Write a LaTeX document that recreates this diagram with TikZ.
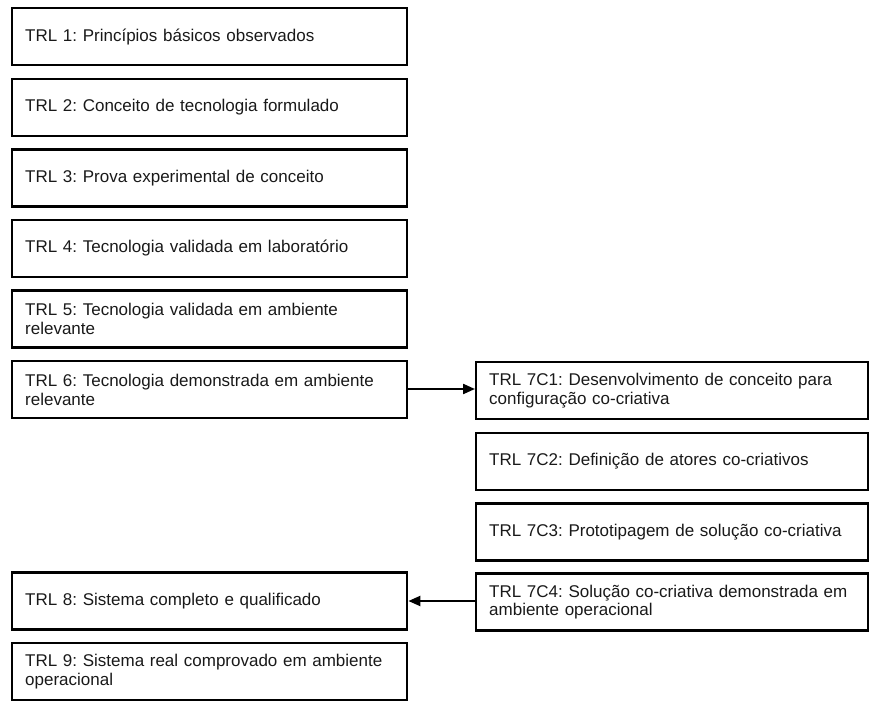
\documentclass[tikz,border=0pt]{standalone}
\usepackage{fontspec}
\setmainfont{Liberation Sans}
\usetikzlibrary{arrows.meta}
\frenchspacing
\tikzset{
  trlbox/.style={draw=black, line width=2.4pt, rectangle, anchor=north west,
    inner xsep=13pt, inner ysep=0pt, text width=369pt, minimum height=57pt,
    align=left, font=\fontsize{17}{18.5}\selectfont, text=black!90},
  trlboxr/.style={trlbox, text width=366pt},
  conn/.style={line width=2.2pt, -{Triangle[length=12pt,width=10pt]}}
}
\begin{document}
\frenchspacing
\begin{tikzpicture}[x=1pt,y=-1pt]
\useasboundingbox (0,0) rectangle (870,708);
\node[trlbox] (t1) at (11,7.0) {TRL 1: Princípios básicos observados};
\node[trlbox] (t2) at (11,77.6) {TRL 2: Conceito de tecnologia formulado};
\node[trlbox] (t3) at (11,148.2) {TRL 3: Prova experimental de conceito};
\node[trlbox] (t4) at (11,218.8) {TRL 4: Tecnologia validada em laboratório};
\node[trlbox] (t5) at (11,289.4) {TRL 5: Tecnologia validada em ambiente\\relevante};
\node[trlbox] (t6) at (11,360.0) {TRL 6: Tecnologia demonstrada em ambiente\\relevante};
\node[trlbox] (t8) at (11,571.2) {TRL 8: Sistema completo e qualificado};
\node[trlbox] (t9) at (11,641.8) {TRL 9: Sistema real comprovado em ambiente\\operacional};
\node[trlboxr] (c1) at (475,361.0) {TRL 7C1: Desenvolvimento de conceito para\\configuração co-criativa};
\node[trlboxr] (c2) at (475,431.6) {TRL 7C2: Definição de atores co-criativos};
\node[trlboxr] (c3) at (475,502.2) {TRL 7C3: Prototipagem de solução co-criativa};
\node[trlboxr] (c4) at (475,572.2) {TRL 7C4: Solução co-criativa demonstrada em\\ambiente operacional};
\draw[conn] (t6.east |- 0,389) -- (c1.west |- 0,389);
\draw[conn] (c4.west |- 0,601) -- (t8.east |- 0,601);
\end{tikzpicture}
\end{document}
